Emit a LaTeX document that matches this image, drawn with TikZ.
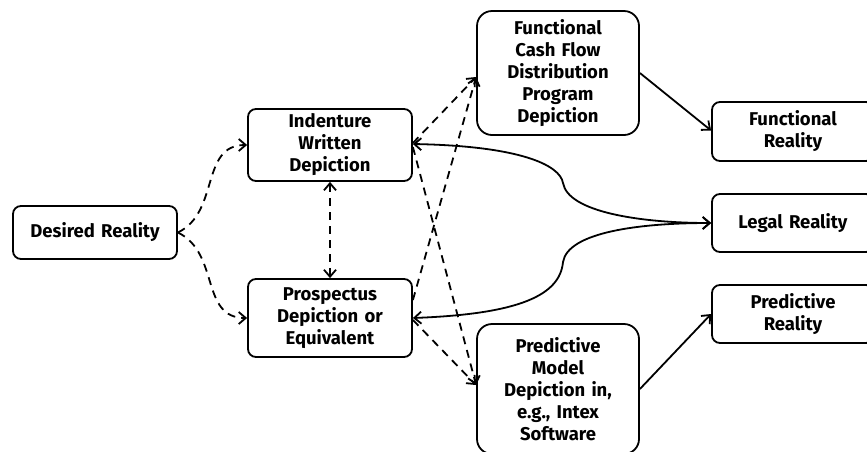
\documentclass[tikz,border=0pt]{standalone}
\usepackage{fontspec}
\setmainfont{Fira Sans}
\usetikzlibrary{arrows.meta,calc}
\tikzset{
  box/.style={draw, line width=1.8pt, rounded corners=8pt, align=center, inner sep=0pt,
    font=\bfseries\fontsize{18.5}{22}\selectfont, text width=#1},
  box/.default={158pt},
  dline/.style={line width=1.8pt, dash pattern=on 8pt off 6pt, -{Straight Barb[length=7pt,width=12pt]}},
  ddline/.style={line width=1.8pt, dash pattern=on 8pt off 6pt, {Straight Barb[length=7pt,width=12pt]}-{Straight Barb[length=7pt,width=12pt]}},
  sline/.style={line width=1.8pt, -{Straight Barb[length=7pt,width=12pt]}},
  ssline/.style={line width=1.8pt, {Straight Barb[length=7pt,width=12pt]}-{Straight Barb[length=7pt,width=12pt]}}
}
\begin{document}
\begin{tikzpicture}[x=1pt,y=-1pt]
\useasboundingbox (0,0) rectangle (867,451);
\clip (0,0) rectangle (867,451);
\node[box, minimum width=164pt, minimum height=53pt] (dr) at (95,232.5) {Desired Reality};
\node[box, minimum width=164pt, minimum height=72pt] (ind) at (330,145) {Indenture\\Written\\Depiction};
\node[box, minimum width=164pt, minimum height=78pt] (pro) at (330,318) {Prospectus\\Depiction or\\Equivalent};
\node[box, rounded corners=15pt, minimum width=162pt, minimum height=124pt] (fcf) at (558,73) {Functional\\Cash Flow\\Distribution\\Program\\Depiction};
\node[box, rounded corners=15pt, minimum width=162pt, minimum height=130pt] (pm) at (558,389) {Predictive\\Model\\Depiction in,\\e.g., Intex\\Software};
\node[box, minimum width=162pt, minimum height=59pt] (fr) at (793,131.5) {Functional\\Reality};
\node[box, minimum width=162pt, minimum height=58pt] (lr) at (793,223) {Legal Reality};
\node[box, minimum width=162pt, minimum height=58pt] (prr) at (793,314) {Predictive\\Reality};

\draw[dline] (dr.east) .. controls (220,212) and (200,145) .. (ind.west);
\draw[dline] (dr.east) .. controls (220,253) and (200,318) .. (pro.west);
\draw[ddline] (ind.south) -- (pro.north);
\draw[dline] ([yshift=2pt]ind.east) -- ([yshift=-4pt]fcf.west);
\draw[dline] ([yshift=18pt]pro.east) -- ([yshift=-4pt]fcf.west);
\draw[dline] ([yshift=-2pt]ind.east) -- ([yshift=4pt]pm.west);
\draw[dline] ([yshift=-2pt]pro.east) -- ([yshift=4pt]pm.west);
\draw[sline] (fcf.east) -- ([yshift=1pt]fr.west);
\draw[sline] (pm.east) -- (prr.west);
\draw[ssline] ([yshift=1pt]ind.east) .. controls (520,146) and (560,165) .. (563,183)
   .. controls (568,212) and (640,223) .. (lr.west);
\draw[ssline] (pro.east) .. controls (520,314) and (560,295) .. (563,262)
   .. controls (568,232) and (640,223) .. (lr.west);
\end{tikzpicture}
\end{document}
